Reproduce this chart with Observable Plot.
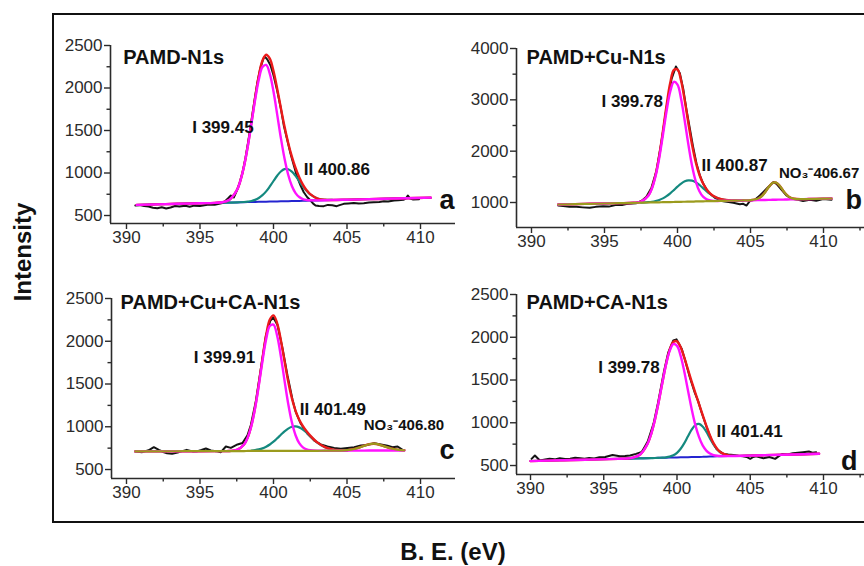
<!DOCTYPE html>
<html><head><meta charset="utf-8">
<script src="https://cdn.jsdelivr.net/npm/d3@7"></script>
<script src="https://cdn.jsdelivr.net/npm/@observablehq/plot@0.6"></script>
<style>
html,body{margin:0;padding:0;background:#fff;}
#chart{position:relative;width:864px;height:566px;overflow:hidden;background:#fff;}
</style></head><body><div id="chart"></div>
<script>
// ---------- tick values ----------
const xMajorTicks = [390, 395, 400, 405, 410];
const xMinorTicks = [392.5, 397.5, 402.5, 407.5, 412.5];
const yMajorLow = [500, 1000, 1500, 2000, 2500];
const yMinorLow = [750, 1250, 1750, 2250];
const yMajorHigh = [1000, 2000, 3000, 4000];
const yMinorHigh = [1500, 2500, 3500];

// ---------- panel a : PAMD-N1s ----------
const aFitX = [390.7, 392, 393, 394, 395, 396, 396.5, 397, 397.5, 397.75, 398, 398.25, 398.5, 398.75, 399, 399.25, 399.5, 399.75, 400, 400.25, 400.5, 400.75, 401, 401.25, 401.5, 401.75, 402, 402.25, 402.5, 403, 403.5, 404, 405, 406, 407, 408, 409, 410.7];
const aBackground = [625, 631, 635, 640, 644, 648, 650, 652, 654, 655, 656, 658, 659, 660, 661, 662, 663, 664, 665, 666, 667, 668, 669, 670, 671, 672, 673, 675, 676, 678, 680, 682, 686, 690, 695, 699, 703, 710];
const aPeakI = [625, 631, 635, 640, 644, 649, 656, 686, 795, 911, 1082, 1312, 1582, 1860, 2098, 2246, 2271, 2167, 1958, 1690, 1414, 1170, 979, 847, 764, 717, 693, 683, 679, 678, 680, 682, 686, 690, 695, 699, 703, 710];
const aPeakII = [null, null, null, null, null, null, 650, 652, 654, 656, 659, 664, 671, 684, 706, 739, 784, 842, 906, 968, 1018, 1045, 1044, 1016, 966, 905, 843, 790, 748, 700, 685, 683, null, null, null, null, null, null];
const aEnvelope = [625, 631, 635, 640, 644, 649, 656, 686, 795, 912, 1084, 1318, 1594, 1884, 2143, 2323, 2392, 2345, 2199, 1992, 1765, 1547, 1354, 1193, 1059, 950, 863, 798, 751, 700, 685, 683, 686, 690, 695, 699, 703, 710];
const aRaw = [[390.6,618],[390.9,622],[391.2,612],[391.5,605],[391.8,592],[392.1,585],[392.4,598],[392.7,583],[393.0,595],[393.3,612],[393.6,606],[394.0,615],[394.3,603],[394.6,616],[395.0,612],[395.3,620],[395.6,628],[396.0,626],[396.3,637],[396.6,650],[396.9,700],[397.1,735],[397.3,712],[397.5,790],[397.7,885],[397.9,1010],[398.1,1180],[398.3,1390],[398.5,1615],[398.7,1845],[398.9,2060],[399.1,2230],[399.3,2340],[399.4,2371],[399.6,2330],[399.8,2265],[400.0,2150],[400.25,1971],[400.5,1760],[400.7,1560],[400.95,1380],[401.16,1226],[401.4,1080],[401.61,951],[401.85,850],[402.06,774],[402.3,715],[402.52,676],[402.7,640],[402.86,618],[403.1,612],[403.42,610],[403.7,625],[404.0,620],[404.3,610],[404.5,622],[404.78,637],[405.1,642],[405.46,648],[405.8,640],[406.14,645],[406.5,652],[406.82,656],[407.2,660],[407.5,668],[407.8,664],[408.2,676],[408.5,680],[408.84,684],[409.0,700],[409.14,735],[409.3,700],[409.5,688],[409.9,692]];

// ---------- panel b : PAMD+Cu-N1s ----------
const bFitX = [391.83, 393, 394, 395, 396, 397, 397.5, 398, 398.25, 398.5, 398.75, 399, 399.25, 399.5, 399.75, 400, 400.25, 400.5, 400.75, 401, 401.25, 401.5, 401.75, 402, 402.25, 402.5, 403, 403.5, 404, 404.5, 405, 405.5, 405.75, 406, 406.25, 406.5, 406.75, 407, 407.25, 407.5, 407.75, 408, 408.5, 409, 410, 410.55];
const bPeakI = [961, 968, 975, 981, 987, 995, 1017, 1130, 1273, 1515, 1867, 2311, 2776, 3158, 3350, 3296, 3013, 2583, 2120, 1713, 1413, 1220, 1113, 1062, 1039, 1032, 1031, 1034, 1037, 1040, 1043, 1046, 1048, 1050, 1051, 1053, 1054, 1056, 1057, 1059, 1060, 1062, 1065, 1068, 1075, 1078];
const bPeakII = [null, null, null, null, null, null, 997, 1006, 1014, 1028, 1049, 1080, 1123, 1178, 1241, 1308, 1368, 1412, 1432, 1425, 1394, 1342, 1280, 1218, 1162, 1117, 1063, 1043, 1039, 1040, null, null, null, null, null, null, null, null, null, null, null, null, null, null, null, null];
const bPeakNO3 = [961, 968, 975, 981, 987, 993, 996, 1000, 1001, 1003, 1004, 1006, 1007, 1009, 1010, 1012, 1014, 1015, 1017, 1018, 1020, 1021, 1023, 1025, 1026, 1028, 1031, 1034, 1037, 1040, 1045, 1072, 1118, 1199, 1301, 1380, 1389, 1325, 1226, 1142, 1092, 1072, 1065, 1068, 1075, 1078];
const bEnvelope = [961, 968, 975, 981, 987, 995, 1018, 1136, 1286, 1540, 1912, 2385, 2892, 3327, 3581, 3592, 3367, 2980, 2535, 2120, 1787, 1541, 1370, 1255, 1175, 1121, 1063, 1043, 1039, 1040, 1045, 1072, 1118, 1199, 1301, 1380, 1389, 1325, 1226, 1142, 1092, 1072, 1065, 1068, 1075, 1078];
const bRaw = [[391.83,941],[392.17,930],[392.6,915],[393.08,915],[393.5,905],[393.99,896],[394.4,915],[394.9,925],[395.3,920],[395.82,955],[396.2,950],[396.5,970],[396.9,980],[397.19,987],[397.53,1030],[397.87,1110],[398.22,1290],[398.56,1620],[398.9,2180],[399.25,2850],[399.59,3400],[399.89,3650],[400.16,3520],[400.4,3200],[400.62,2800],[400.84,2450],[401.07,2080],[401.3,1760],[401.53,1530],[401.76,1370],[402.1,1200],[402.56,1092],[403.13,1025],[403.5,1010],[403.82,994],[404.27,965],[404.5,975],[404.73,941],[404.96,1033],[405.3,1053],[405.64,1136],[406.1,1267],[406.56,1396],[406.78,1364],[407.13,1247],[407.47,1136],[407.81,1072],[408.27,1053],[408.6,1027],[409.06,1053],[409.5,1033],[409.98,1066],[410.55,1053]];

// ---------- panel c : PAMD+Cu+CA-N1s ----------
const cFitX = [390.6, 392, 394, 396, 397, 397.5, 398, 398.25, 398.5, 398.75, 399, 399.25, 399.5, 399.75, 400, 400.25, 400.5, 400.75, 401, 401.25, 401.5, 401.75, 402, 402.25, 402.5, 403, 403.5, 404, 404.5, 405, 405.5, 406, 406.5, 406.8, 407, 407.5, 408, 408.5, 408.9];
const cPeakI = [712, 713, 714, 715, 717, 729, 793, 876, 1014, 1219, 1482, 1769, 2023, 2179, 2194, 2063, 1825, 1540, 1269, 1052, 901, 808, 759, 735, 725, 720, 720, 720, 720, 721, 721, 721, 722, 722, 722, 722, 723, 723, 723];
const cPeakII = [null, null, null, null, null, null, null, null, 722, 727, 735, 747, 767, 793, 826, 865, 906, 946, 978, 1000, 1005, 993, 968, 932, 891, 813, 761, 734, 724, 721, null, null, null, null, null, null, null, null, null];
const cPeakNO3 = [712, 713, 714, 715, 716, 716, 716, 717, 717, 717, 717, 717, 718, 718, 718, 718, 718, 718, 718, 719, 719, 719, 719, 719, 719, 719, 720, 720, 721, 726, 740, 767, 796, 802, 799, 774, 746, 730, 725];
const cEnvelope = [712, 713, 714, 715, 717, 729, 793, 876, 1019, 1229, 1500, 1799, 2072, 2254, 2302, 2210, 2013, 1768, 1529, 1333, 1187, 1082, 1008, 948, 897, 814, 761, 734, 725, 726, 740, 767, 796, 802, 799, 774, 746, 730, 725];
const cRaw = [[390.6,711],[391.07,703],[391.5,725],[391.86,761],[392.2,730],[392.5,705],[392.76,691],[393.1,683],[393.55,703],[394.1,730],[394.5,712],[394.83,715],[395.1,728],[395.4,746],[395.74,722],[396.1,715],[396.42,703],[396.76,769],[397.1,753],[397.55,793],[397.89,810],[398.23,900],[398.46,1020],[398.8,1300],[399.14,1680],[399.48,2060],[399.78,2240],[399.98,2280],[400.27,2190],[400.61,1920],[400.95,1600],[401.29,1320],[401.5,1180],[401.86,1035],[402.31,918],[402.77,839],[403.22,793],[403.67,769],[404.13,753],[404.58,742],[405.03,753],[405.49,761],[405.94,780],[406.39,788],[406.85,808],[407.3,793],[407.76,777],[408.1,761],[408.44,769],[408.78,730]];

// ---------- panel d : PAMD+CA-N1s ----------
const dFitX = [390, 392, 394, 396, 396.5, 397, 397.5, 398, 398.25, 398.5, 398.75, 399, 399.25, 399.5, 399.75, 400, 400.25, 400.5, 400.75, 401, 401.25, 401.5, 401.75, 402, 402.25, 402.5, 402.75, 403, 403.5, 404, 405, 406, 408, 409.7];
const dBackground = [552, 561, 569, 578, 580, 582, 584, 586, 587, 588, 590, 591, 592, 593, 594, 595, 596, 597, 598, 599, 600, 601, 602, 604, 605, 606, 607, 608, 610, 612, 616, 621, 629, 637];
const dPeakI = [552, 561, 569, 578, 581, 592, 632, 758, 877, 1042, 1246, 1469, 1680, 1841, 1920, 1899, 1783, 1597, 1378, 1162, 976, 834, 735, 675, 640, 622, 614, 611, 610, 612, 616, 621, 629, 637];
const dPeakII = [null, null, null, 578, 580, 582, 584, 586, 587, 588, 590, 592, 596, 604, 619, 648, 696, 762, 842, 919, 973, 987, 957, 895, 817, 743, 686, 648, 617, 613, null, null, null, null];
const dEnvelope = [552, 561, 569, 578, 581, 592, 632, 758, 877, 1042, 1246, 1470, 1684, 1852, 1945, 1952, 1883, 1762, 1622, 1482, 1349, 1221, 1091, 966, 852, 759, 693, 651, 617, 613, 616, 621, 629, 637];
const dRaw = [[390.07,578],[390.3,617],[390.64,559],[391.0,570],[391.3,578],[391.65,572],[392.0,585],[392.35,575],[392.7,578],[393.05,590],[393.4,585],[393.7,580],[394.0,589],[394.35,583],[394.7,597],[395.1,600],[395.6,624],[396.1,609],[396.45,612],[396.8,617],[397.2,636],[397.6,660],[397.8,720],[398.0,780],[398.4,990],[398.7,1230],[399.1,1590],[399.4,1820],[399.75,1962],[399.97,1975],[400.31,1870],[400.54,1740],[400.88,1530],[401.22,1350],[401.45,1250],[401.68,1120],[402.02,950],[402.37,790],[402.71,690],[403.17,636],[403.5,628],[403.85,624],[404.2,615],[404.5,609],[404.75,600],[405.0,578],[405.2,600],[405.4,609],[405.65,595],[405.9,585],[406.3,600],[406.7,578],[406.95,610],[407.2,636],[407.55,630],[407.9,644],[408.25,650],[408.6,656],[409.0,664],[409.25,650],[409.5,656]];

// ---------- annotations (anchored in data units) ----------
const aTitles = [{x: 389.78, y: 2277, text: "PAMD-N1s"}];
const aPeakLabels = [{x: 394.47, y: 1465, text: "I 399.45"}, {x: 402.06, y: 971, text: "II 400.86"}];
const aIonLabels = [];
const aLetter = [{x: 411.3, y: 571, text: "a"}];
const bTitles = [{x: 389.66, y: 3689, text: "PAMD+Cu-N1s"}];
const bPeakLabels = [{x: 394.79, y: 2857, text: "I 399.78"}, {x: 401.64, y: 1623, text: "II 400.87"}];
const bIonLabels = [{x: 406.95, y: 1481, text: "NO\u2083\u207B406.67"}];
const bLetter = [{x: 411.5, y: 883, text: "b"}];
const cTitles = [{x: 389.6, y: 2380, text: "PAMD+Cu+CA-N1s"}];
const cPeakLabels = [{x: 394.58, y: 1744, text: "I 399.91"}, {x: 401.79, y: 1132, text: "II 401.49"}];
const cIonLabels = [{x: 406.14, y: 965, text: "NO\u2083\u207B406.80"}];
const cLetter = [{x: 411.3, y: 625, text: "c"}];
const dTitles = [{x: 389.73, y: 2325, text: "PAMD+CA-N1s"}];
const dPeakLabels = [{x: 394.62, y: 1584, text: "I 399.78"}, {x: 402.7, y: 831, text: "II 401.41"}];
const dIonLabels = [];
const dLetter = [{x: 411.2, y: 442, text: "d"}];

// ---------- styles ----------
const FONT = "'Liberation Sans', Arial, Helvetica, sans-serif";
const C_RAW = "#141414", C_ENV = "#ec1a1a", C_I = "#ff12ff", C_II = "#14897f", C_NO3 = "#9b9b1e", C_BG = "#2424d0", C_AX = "#2b2b2b";

function panel(cfg) {
  const [x0, x1] = cfg.xDomain, [y0] = cfg.yDomain;
  const marks = [
    Plot.ruleX([x0], {stroke: C_AX, strokeWidth: 1.6}),
    Plot.ruleY([y0], {stroke: C_AX, strokeWidth: 1.6}),
    Plot.axisX(xMajorTicks, {anchor: "bottom", tickSize: 6, tickPadding: 1, label: null, fontSize: 17, color: C_AX, strokeWidth: 1.4, tickFormat: d => String(d)}),
    Plot.axisX(xMinorTicks.filter(t => t >= x0 && t <= x1), {anchor: "bottom", tickSize: 3.5, label: null, color: C_AX, strokeWidth: 1.4, tickFormat: () => ""}),
    Plot.axisY(cfg.yMajor, {anchor: "left", tickSize: 6, tickPadding: 2, label: null, fontSize: 17, color: C_AX, strokeWidth: 1.4, tickFormat: d => String(d)}),
    Plot.axisY(cfg.yMinor, {anchor: "left", tickSize: 3.5, label: null, color: C_AX, strokeWidth: 1.4, tickFormat: () => ""}),
    Plot.line(cfg.raw, {x: d => d[0], y: d => d[1], stroke: C_RAW, strokeWidth: 2})
  ];
  if (cfg.bg) marks.push(Plot.line(cfg.fitX, {x: d => d, y: cfg.bg, stroke: C_BG, strokeWidth: 2}));
  marks.push(Plot.line(cfg.fitX, {x: d => d, y: cfg.peakII, stroke: C_II, strokeWidth: 2.2, curve: "catmull-rom"}));
  marks.push(Plot.line(cfg.fitX, {x: d => d, y: cfg.env, stroke: C_ENV, strokeWidth: 2.4, curve: "catmull-rom"}));
  marks.push(Plot.line(cfg.fitX, {x: d => d, y: cfg.peakI, stroke: C_I, strokeWidth: 2.4, curve: "catmull-rom"}));
  if (cfg.no3) marks.push(Plot.line(cfg.fitX, {x: d => d, y: cfg.no3, stroke: C_NO3, strokeWidth: 2.2, curve: "catmull-rom"}));
  const txt = {x: "x", y: "y", text: "text", textAnchor: "start", lineAnchor: "bottom", fontWeight: "bold", fill: "#111", fontFamily: FONT};
  marks.push(Plot.text(cfg.titles, {...txt, fontSize: 20}));
  marks.push(Plot.text(cfg.peaks, {...txt, fontSize: 17}));
  marks.push(Plot.text(cfg.ions, {...txt, fontSize: 15}));
  marks.push(Plot.text(cfg.letter, {...txt, fontSize: 27}));
  const svg = Plot.plot({
    width: cfg.box.w, height: cfg.box.h,
    marginLeft: cfg.box.ml, marginRight: cfg.box.mr, marginTop: cfg.box.mt, marginBottom: cfg.box.mb,
    x: {domain: cfg.xDomain}, y: {domain: cfg.yDomain},
    marks
  });
  Object.assign(svg.style, {position: "absolute", left: cfg.box.left + "px", top: cfg.box.top + "px",
    overflow: "visible", background: "transparent", fontFamily: FONT, fontSize: "17px", color: C_AX, maxWidth: "none"});
  return svg;
}

const root = document.getElementById("chart");
const deco = d3.select(root).append("svg").attr("width", 864).attr("height", 566)
  .style("position", "absolute").style("left", "0px").style("top", "0px");
deco.append("path").attr("d", "M864,14H53V522H864").attr("fill", "none").attr("stroke", "#111").attr("stroke-width", 2);
deco.append("text").attr("transform", "translate(31,252) rotate(-90)").attr("text-anchor", "middle")
  .attr("font-family", FONT).attr("font-weight", "bold").attr("font-size", 24).attr("fill", "#111").text("Intensity");
deco.append("text").attr("x", 453).attr("y", 560).attr("text-anchor", "middle")
  .attr("font-family", FONT).attr("font-weight", "bold").attr("font-size", 24).attr("fill", "#111").text("B. E. (eV)");

root.appendChild(panel({
  xDomain: [388.912, 412.381], yDomain: [406, 2500], yMajor: yMajorLow, yMinor: yMinorLow,
  fitX: aFitX, raw: aRaw, bg: aBackground, peakI: aPeakI, peakII: aPeakII, env: aEnvelope,
  titles: aTitles, peaks: aPeakLabels, ions: aIonLabels, letter: aLetter,
  box: {left: 60, top: 15, w: 405, h: 240, ml: 50, mr: 10, mt: 30, mb: 32}
}));
root.appendChild(panel({
  xDomain: [388.973, 412.808], yDomain: [513, 4000], yMajor: yMajorHigh, yMinor: yMinorHigh,
  fitX: bFitX, raw: bRaw, peakI: bPeakI, peakII: bPeakII, no3: bPeakNO3, env: bEnvelope,
  titles: bTitles, peaks: bPeakLabels, ions: bIonLabels, letter: bLetter,
  box: {left: 466, top: 15, w: 398, h: 245, ml: 50, mr: 0, mt: 33, mb: 33}
}));
root.appendChild(panel({
  xDomain: [388.98, 412.38], yDomain: [395, 2500], yMajor: yMajorLow, yMinor: yMinorLow,
  fitX: cFitX, raw: cRaw, peakI: cPeakI, peakII: cPeakII, no3: cPeakNO3, env: cEnvelope,
  titles: cTitles, peaks: cPeakLabels, ions: cIonLabels, letter: cLetter,
  box: {left: 61, top: 265, w: 404, h: 245, ml: 50, mr: 10, mt: 33, mb: 32}
}));
root.appendChild(panel({
  xDomain: [389.044, 412.799], yDomain: [395, 2500], yMajor: yMajorLow, yMinor: yMinorLow,
  fitX: dFitX, raw: dRaw, bg: dBackground, peakI: dPeakI, peakII: dPeakII, env: dEnvelope,
  titles: dTitles, peaks: dPeakLabels, ions: dIonLabels, letter: dLetter,
  box: {left: 466, top: 261, w: 398, h: 245, ml: 50, mr: 0, mt: 33, mb: 32}
}));
</script></body></html>
